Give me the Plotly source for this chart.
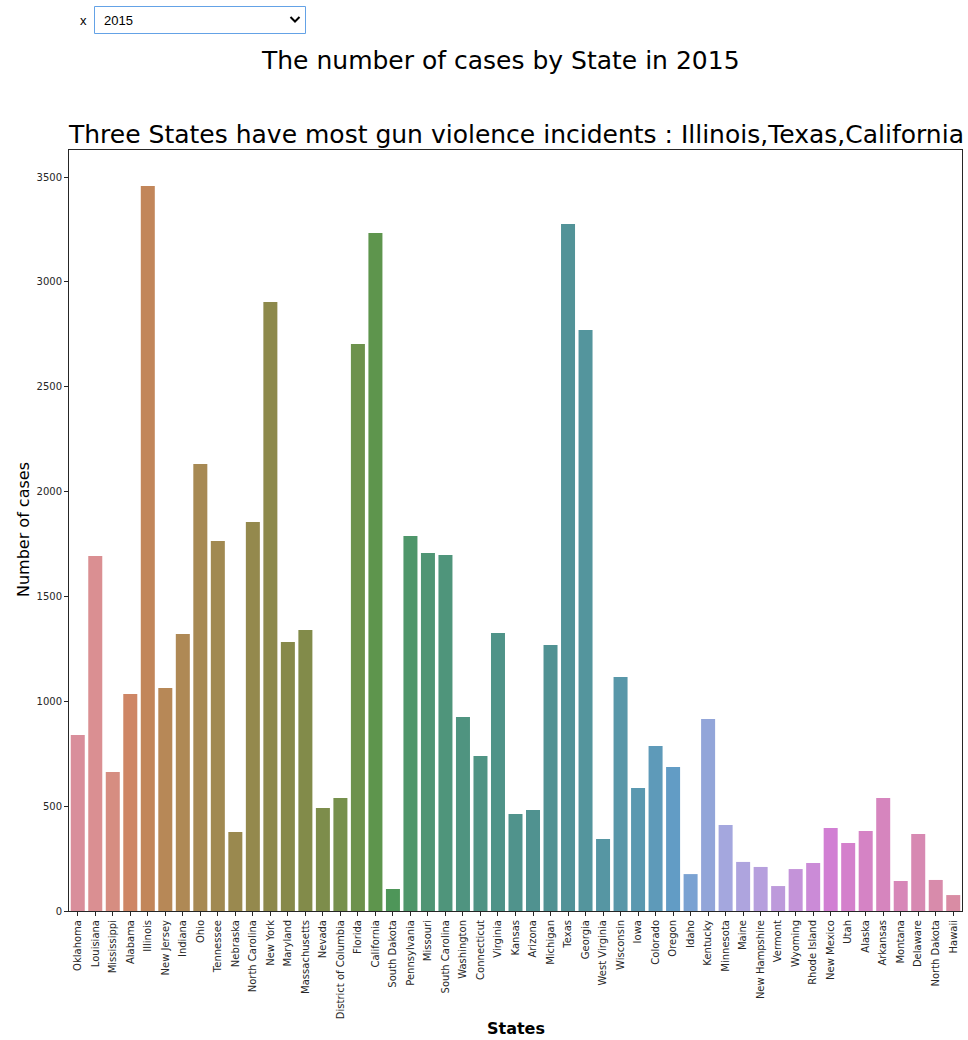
import math
import colorsys
import plotly.graph_objects as go

states = ["Oklahoma", "Louisiana", "Mississippi", "Alabama", "Illinois", "New Jersey", "Indiana",
          "Ohio", "Tennessee", "Nebraska", "North Carolina", "New York", "Maryland", "Massachusetts",
          "Nevada", "District of Columbia", "Florida", "California", "South Dakota", "Pennsylvania",
          "Missouri", "South Carolina", "Washington", "Connecticut", "Virginia", "Kansas", "Arizona",
          "Michigan", "Texas", "Georgia", "West Virginia", "Wisconsin", "Iowa", "Colorado", "Oregon",
          "Idaho", "Kentucky", "Minnesota", "Maine", "New Hampshire", "Vermont", "Wyoming",
          "Rhode Island", "New Mexico", "Utah", "Alaska", "Arkansas", "Montana", "Delaware",
          "North Dakota", "Hawaii"]
cases = [839, 1693, 663, 1035, 3457, 1063, 1321,
         2132, 1764, 377, 1855, 2904, 1283, 1340,
         491, 539, 2704, 3233, 105, 1788,
         1707, 1698, 925, 739, 1326, 463, 482,
         1268, 3276, 2771, 343, 1116, 587, 787, 687,
         176, 916, 410, 234, 210, 119, 200,
         229, 396, 324, 381, 539, 143, 367,
         148, 76]
y_ticks = [0, 500, 1000, 1500, 2000, 2500, 3000, 3500]
year = "2015"

# --- HUSL palette (as seaborn) ---
M = [[3.2406, -1.5372, -0.4986], [-0.9689, 1.8758, 0.0415], [0.0557, -0.2040, 1.0570]]
refU, refV = 0.19784, 0.46834
lab_e, lab_k = 0.008856, 903.3


def max_chroma(L, H):
    hrad = H / 360.0 * 2 * math.pi
    sinH, cosH = math.sin(hrad), math.cos(hrad)
    sub1 = (L + 16) ** 3 / 1560896.0
    sub2 = sub1 if sub1 > lab_e else L / lab_k
    result = float("inf")
    for m1, m2, m3 in M:
        top = (0.99915 * m1 + 1.05122 * m2 + 1.14460 * m3) * sub2
        rbottom = 0.86330 * m3 - 0.17266 * m2
        lbottom = 0.12949 * m3 - 0.38848 * m1
        bottom = (rbottom * sinH + lbottom * cosH) * sub2
        for t in (0.0, 1.0):
            C = L * (top - 1.05122 * t) / (bottom + 0.17266 * sinH * t)
            if 0 < C < result:
                result = C
    return result


def husl_to_rgb(H, S, L):
    C = max_chroma(L, H) / 100.0 * S
    hrad = math.radians(H)
    U, V = C * math.cos(hrad), C * math.sin(hrad)
    t = (L + 16) / 116.0
    varY = t ** 3 if t ** 3 > lab_e else (116 * t - 16) / lab_k
    varU = U / (13 * L) + refU
    varV = V / (13 * L) + refV
    Y = varY
    X = -(9 * Y * varU) / ((varU - 4) * varV - varU * varV)
    Z = (9 * Y - 15 * varV * Y - varV * X) / (3 * varV)
    out = []
    for row in M:
        c = row[0] * X + row[1] * Y + row[2] * Z
        c = 12.92 * c if c <= 0.0031308 else 1.055 * c ** (1 / 2.4) - 0.055
        out.append(min(max(c, 0.0), 1.0))
    return out


def palette(n, h=0.01, s=0.9, l=0.65, sat=0.75 * 0.75):
    cols = []
    for i in range(n):
        hue = ((i / n + h) % 1) * 359
        r, g, b = husl_to_rgb(hue, s * 99, l * 99)
        hh, ll, ss = colorsys.rgb_to_hls(r, g, b)
        r, g, b = colorsys.hls_to_rgb(hh, ll, ss * sat)
        cols.append("rgb(%d,%d,%d)" % (round(r * 255), round(g * 255), round(b * 255)))
    return cols


colors = palette(len(states))

fig = go.Figure(go.Bar(x=states, y=cases, marker=dict(color=colors, line=dict(width=0)), width=0.8))

font_family = "DejaVu Sans"
fig.update_layout(
    width=968, height=1040,
    margin=dict(l=69, r=6, t=150, b=129),
    plot_bgcolor="white", paper_bgcolor="white",
    font=dict(family=font_family, color="#262626"),
    showlegend=False,
    bargap=0.2,
)
fig.update_xaxes(
    range=[-0.5, len(states) - 0.5],
    showline=True, linecolor="#262626", linewidth=1, mirror=True,
    ticks="outside", ticklen=4, tickcolor="#262626",
    tickangle=-90, tickfont=dict(size=10, color="#262626"),
    showgrid=False, automargin=False,
)
fig.update_yaxes(
    range=[0, 3629],
    tickvals=y_ticks,
    showline=True, linecolor="#262626", linewidth=1, mirror=True,
    ticks="outside", ticklen=4, tickcolor="#262626",
    tickfont=dict(size=10, color="#262626"),
    showgrid=False, zeroline=False, automargin=False,
)


def px_x(px):
    return (px - 69) / 893


def px_y(py):
    return (911 - py) / 761


# Axis titles
fig.add_annotation(text="<b>States</b>", xref="paper", yref="paper", x=0.5, y=px_y(1028),
                   xanchor="center", yanchor="middle", showarrow=False,
                   font=dict(size=16, color="black", family=font_family))
fig.add_annotation(text="Number of cases", xref="paper", yref="paper", x=px_x(23), y=px_y(530),
                   xanchor="center", yanchor="middle", showarrow=False, textangle=-90,
                   font=dict(size=16, color="black", family=font_family))

# Titles
fig.add_annotation(text="The number of cases by State in " + year, xref="paper", yref="paper",
                   x=px_x(500), y=px_y(60), xanchor="center", yanchor="middle",
                   showarrow=False, font=dict(size=25, color="black", family=font_family))
fig.add_annotation(text="Three States have most gun violence incidents : Illinois,Texas,California",
                   xref="paper", yref="paper", x=0.5, y=1, yshift=-1, xanchor="center", yanchor="bottom",
                   showarrow=False, font=dict(size=25, color="black", family=font_family))

# Dropdown widget look-alike
fig.add_shape(type="rect", xref="paper", yref="paper",
              x0=px_x(94.5), x1=px_x(305.5), y0=px_y(33.5), y1=px_y(6.5),
              line=dict(color="#64A2E6", width=1), fillcolor="white", layer="above")
fig.add_annotation(text="x", xref="paper", yref="paper", x=px_x(83), y=px_y(20),
                   xanchor="center", yanchor="middle", showarrow=False,
                   font=dict(size=13, color="black", family="Liberation Sans"))
fig.add_annotation(text=year, xref="paper", yref="paper", x=px_x(102), y=px_y(20),
                   xanchor="left", yanchor="middle", showarrow=False,
                   font=dict(size=13, color="black", family="Liberation Sans"))
fig.add_shape(type="path", xref="paper", yref="paper",
              path="M %f,%f L %f,%f L %f,%f" % (px_x(290.5), px_y(17), px_x(295), px_y(21.5), px_x(299.5), px_y(17)),
              line=dict(color="black", width=2), layer="above")

fig.write_html("out.html", config={"displayModeBar": False},
               post_script="document.body.style.margin='0';")
